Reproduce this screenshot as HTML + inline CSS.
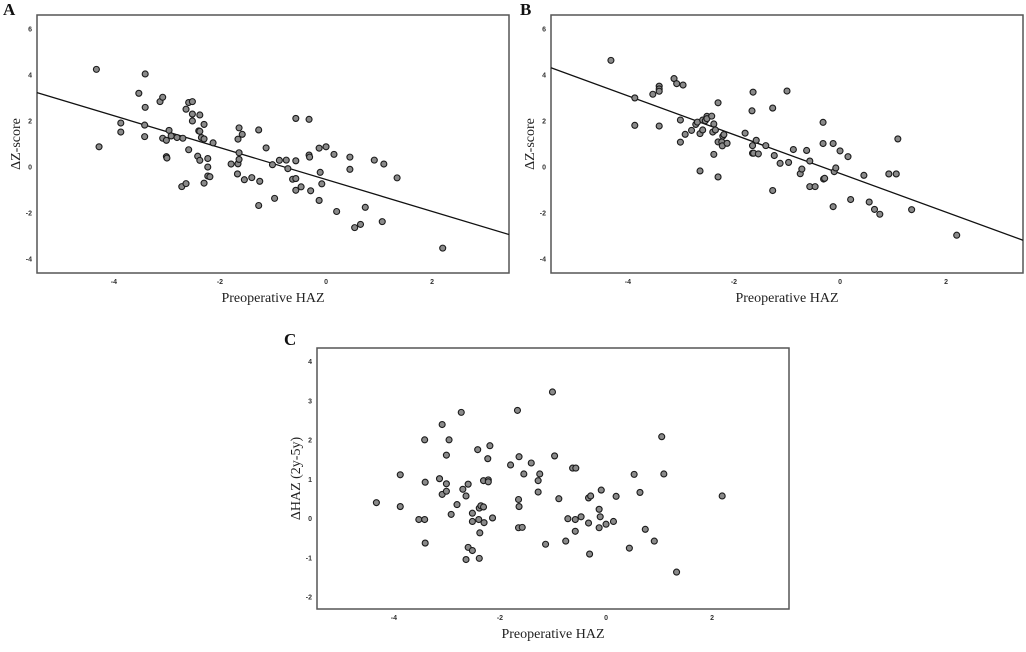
<!DOCTYPE html>
<html><head><meta charset="utf-8"><style>
body{margin:0;background:#fff;}
.sans{font-family:"Liberation Sans",sans-serif;}
.serif{font-family:"Liberation Serif",serif;}
</style></head><body>
<svg id="fig" width="1026" height="647" xmlns="http://www.w3.org/2000/svg"></svg>
<script>
const xTicks=[-4,-2,0,2];
const abTicksY=[6,4,2,0,-2,-4];
const cTicksY=[4,3,2,1,0,-1,-2];
const aX=[-4.33,-4.28,-3.87,-3.87,-3.53,-3.41,-3.41,-3.42,-3.42,-3.13,-3.08,-3.08,-3.01,-2.96,-2.92,-3.01,-3.0,-2.81,-2.70,-2.72,-2.64,-2.59,-2.64,-2.59,-2.52,-2.52,-2.52,-2.38,-2.40,-2.38,-2.35,-2.30,-2.30,-2.42,-2.38,-2.23,-2.23,-2.30,-2.23,-2.19,-2.13,-1.79,-1.66,-1.67,-1.64,-1.66,-1.58,-1.64,-1.64,-1.54,-1.40,-1.27,-1.27,-1.25,-1.13,-1.01,-0.97,-0.88,-0.75,-0.72,-0.63,-0.57,-0.57,-0.57,-0.57,-0.47,-0.32,-0.32,-0.31,-0.29,-0.13,-0.11,-0.08,-0.13,0,0.15,0.20,0.45,0.45,0.54,0.65,0.74,0.91,1.06,1.09,1.34,2.20];
const aY=[4.24,0.88,1.91,1.52,3.2,4.04,2.59,1.82,1.32,2.84,3.03,1.25,1.16,1.59,1.35,0.45,0.39,1.28,1.25,-0.85,-0.72,0.75,2.51,2.80,2.84,2.30,2.0,2.26,1.57,1.55,1.28,1.22,1.85,0.47,0.29,0.37,0,-0.70,-0.39,-0.42,1.05,0.13,0.14,-0.30,1.70,1.21,1.42,0.62,0.33,-0.55,-0.46,1.61,-1.67,-0.62,0.83,0.10,-1.36,0.29,0.30,-0.07,-0.53,-0.50,-1.01,0.27,2.11,-0.86,2.07,0.52,0.43,-1.03,0.82,-0.23,-0.73,-1.45,0.88,0.55,-1.93,0.43,-0.10,-2.63,-2.49,-1.75,0.30,-2.37,0.13,-0.47,-3.52];
const aLine=[3.23,-2.93];
const bX=[-4.32,-3.87,-3.87,-3.53,-3.41,-3.41,-3.41,-3.41,-3.13,-3.08,-2.96,-3.01,-3.01,-2.92,-2.80,-2.72,-2.69,-2.64,-2.59,-2.64,-2.59,-2.54,-2.51,-2.51,-2.42,-2.38,-2.40,-2.35,-2.30,-2.30,-2.21,-2.19,-2.23,-2.22,-2.13,-2.38,-2.30,-1.79,-1.66,-1.64,-1.65,-1.65,-1.63,-1.58,-1.54,-1.40,-1.27,-1.24,-1.27,-1.13,-1.0,-0.97,-0.88,-0.75,-0.72,-0.63,-0.57,-0.57,-0.47,-0.32,-0.32,-0.31,-0.29,-0.13,-0.13,-0.11,-0.08,0,0.15,0.20,0.45,0.55,0.65,0.75,0.92,1.06,1.09,1.35,2.20];
const bY=[4.63,3.0,1.81,3.16,3.51,3.39,3.29,1.78,3.84,3.62,3.56,2.04,1.08,1.42,1.59,1.85,1.95,1.45,1.61,-0.17,2.04,2.01,2.20,2.10,2.21,1.87,1.52,1.61,2.79,1.09,1.34,1.41,1.09,0.92,1.03,0.55,-0.43,1.47,2.44,3.25,0.93,0.60,0.60,1.16,0.57,0.93,2.56,0.50,-1.02,0.16,3.30,0.20,0.76,-0.29,-0.09,0.72,0.26,-0.85,-0.85,1.94,1.02,-0.52,-0.49,1.02,-1.72,-0.20,-0.04,0.70,0.45,-1.41,-0.36,-1.52,-1.84,-2.05,-0.30,-0.30,1.22,-1.85,-2.96];
const bLine=[4.31,-3.18];
const cX=[-4.33,-3.88,-3.88,-3.53,-3.42,-3.42,-3.41,-3.41,-3.14,-3.09,-3.09,-3.01,-3.01,-3.01,-2.96,-2.92,-2.81,-2.73,-2.70,-2.64,-2.60,-2.60,-2.64,-2.52,-2.52,-2.52,-2.42,-2.40,-2.39,-2.36,-2.38,-2.39,-2.31,-2.31,-2.30,-2.23,-2.22,-2.22,-2.19,-2.14,-1.80,-1.67,-1.65,-1.64,-1.64,-1.65,-1.58,-1.55,-1.41,-1.28,-1.28,-1.25,-1.14,-1.01,-0.97,-0.89,-0.76,-0.72,-0.63,-0.57,-0.58,-0.58,-0.47,-0.33,-0.29,-0.33,-0.31,-0.13,-0.11,-0.13,-0.09,0,0.14,0.19,0.44,0.53,0.64,0.74,0.91,1.05,1.09,1.33,2.19];
const cY=[0.41,1.12,0.31,-0.02,-0.02,2.01,0.93,-0.62,1.02,2.40,0.62,0.89,0.70,1.62,2.01,0.11,0.36,2.71,0.75,0.58,0.88,-0.73,-1.04,-0.81,0.14,-0.07,1.76,-0.02,0.27,0.33,-0.36,-1.01,0.97,0.30,-0.10,1.53,0.99,0.94,1.86,0.02,1.37,2.76,0.49,0.31,1.58,-0.23,-0.22,1.14,1.42,0.97,0.68,1.14,-0.65,3.23,1.60,0.51,-0.57,0,1.29,1.29,-0.02,-0.32,0.05,0.53,0.58,-0.11,-0.90,0.24,0.05,-0.23,0.73,-0.14,-0.07,0.57,-0.75,1.13,0.67,-0.27,-0.57,2.09,1.14,-1.36,0.58];

const NS='http://www.w3.org/2000/svg';
const svg=document.getElementById('fig');
function mk(tag,attrs,parent){const e=document.createElementNS(NS,tag);for(const k in attrs)e.setAttribute(k,attrs[k]);(parent||svg).appendChild(e);return e;}

function panel(id,L,T,R,B,ymin,ymax,yt,xs,ys,line,ytitle,letter,lx,ly){
  const g=mk('g',{});
  
  
  const xmin=-5.45,xmax=3.45;
  const sx=v=>L+(v-xmin)/(xmax-xmin)*(R-L);
  const sy=v=>B-(v-ymin)/(ymax-ymin)*(B-T);
  const fr=mk('rect',{x:L,y:T,width:R-L,height:B-T,fill:'none',stroke:'#555','stroke-width':1.5},g);
  
  
  xTicks.forEach(v=>{const t=mk('text',{x:sx(v),y:B+11,'font-size':7,'font-weight':'bold','text-anchor':'middle',fill:'#333',class:'sans'},g);t.textContent=v;
    
    });
  yt.forEach(v=>{const t=mk('text',{x:L-5,y:sy(v)+2.5,'font-size':7,'font-weight':'bold','text-anchor':'end',fill:'#333',class:'sans'},g);t.textContent=v;
    
    });
  if(line){const ln=mk('line',{x1:L,y1:sy(line[0]),x2:R,y2:sy(line[1]),stroke:'#111','stroke-width':1.3},g);
    
    }
  xs.forEach((v,i)=>{const c=mk('circle',{cx:sx(v),cy:sy(ys[i]),r:3,fill:'#8a8a8a',stroke:'#1a1a1a','stroke-width':1.1},g);
    
    });
  const xt=mk('text',{x:(L+R)/2,y:B+29,'font-size':14,'text-anchor':'middle',fill:'#222',class:'serif'},g);
  xt.textContent='Preoperative HAZ';
  
  
  const yc=(T+B)/2, yx=L-17;
  const ytt=mk('text',{x:yx,y:yc,'font-size':14,'text-anchor':'middle',fill:'#222',class:'serif',transform:`rotate(-90 ${yx} ${yc})`},g);
  ytt.textContent=ytitle;
  
  
  const pl=mk('text',{x:lx,y:ly,'font-size':17,'font-weight':'bold',fill:'#111',class:'serif'},g);
  pl.textContent=letter;
  
  
}
panel('a',37,15,509,273,-4.6,6.6,abTicksY,aX,aY,aLine,'\u0394Z-score','A',3,15);
panel('b',551,15,1023,273,-4.6,6.6,abTicksY,bX,bY,bLine,'\u0394Z-score','B',520,15);
panel('c',317,348,789,609,-2.3,4.35,cTicksY,cX,cY,null,'\u0394HAZ (2y-5y)','C',284,345);
</script>
</body></html>
